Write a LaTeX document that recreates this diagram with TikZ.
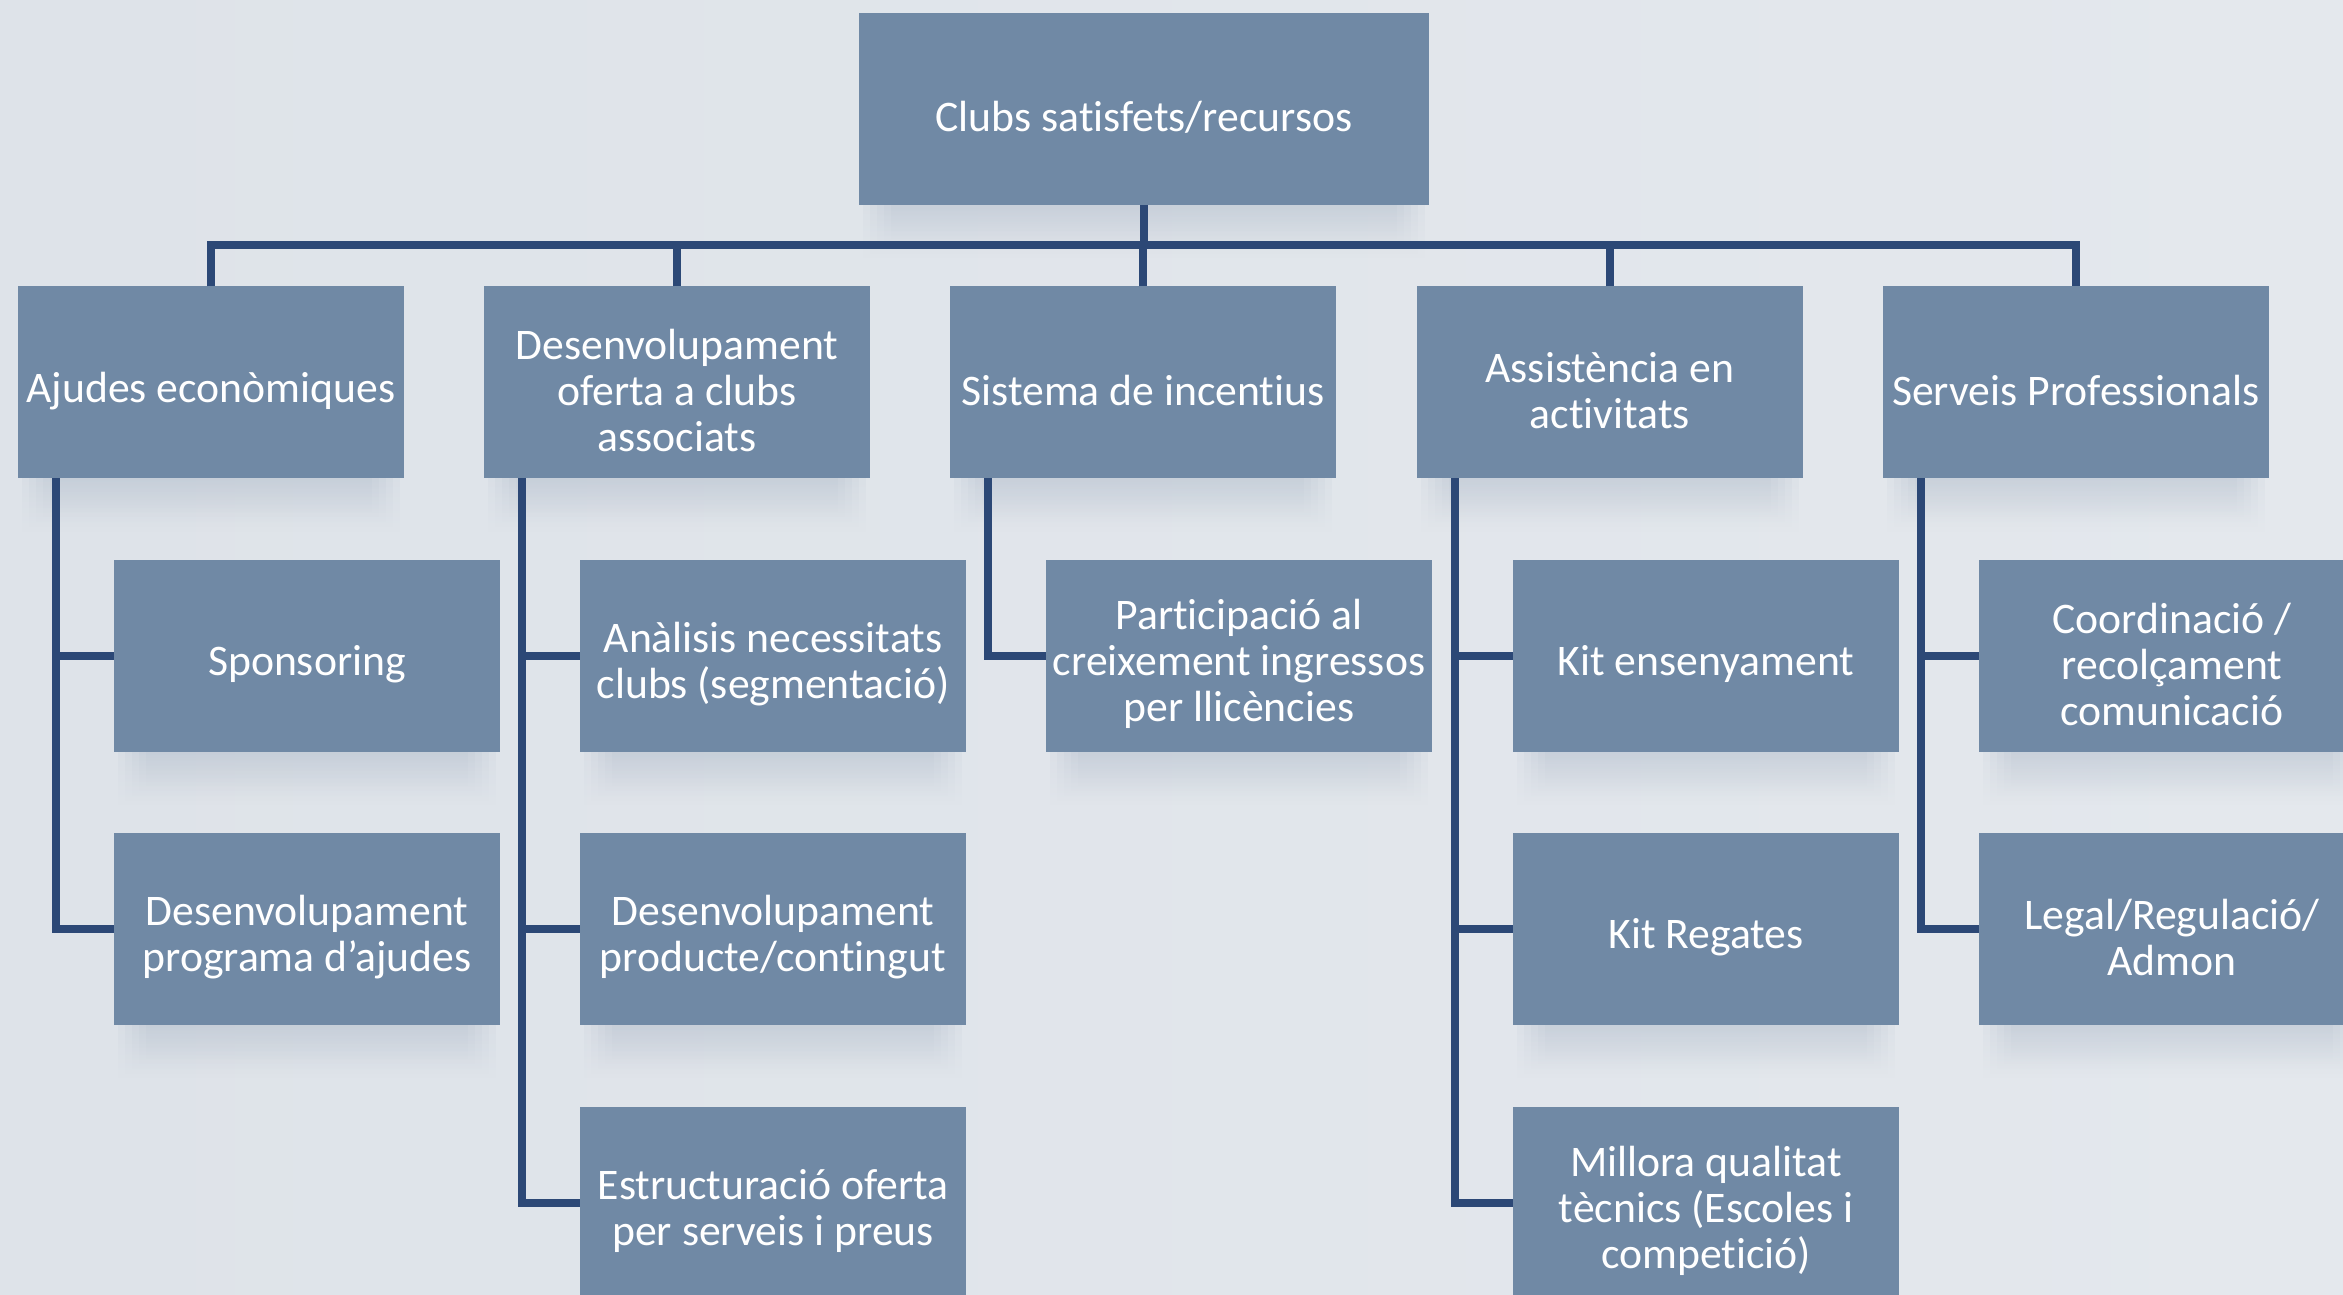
\documentclass[tikz,border=0pt]{standalone}
\usepackage{fontspec}
\setmainfont[Ligatures=NoCommon]{Carlito}
\usetikzlibrary{fadings,calc}
\definecolor{boxfill}{HTML}{7089A5}
\definecolor{linkcol}{HTML}{2C4876}
\definecolor{bgleft}{HTML}{DEE3E9}
\definecolor{bgmid}{HTML}{EDEEF2}
\definecolor{bgright}{HTML}{E4E8ED}
\definecolor{shadowcol}{HTML}{A8B5C6}
\tikzfading[name=shadowfade, top color=transparent!55, bottom color=transparent!100]
\pgfdeclarelayer{backdrop}
\pgfdeclarelayer{shadowlayer}
\pgfsetlayers{backdrop,shadowlayer,main}

% a soft shadow: a few stacked faded strips, narrower each time
\newcommand\cardshadow[1]{%
  \foreach \k in {0,1,2,3,4}{%
    \fill[shadowcol, fill opacity=0.22, path fading=shadowfade]
      ($(#1.south west)+(4+7*\k,0)$) rectangle ($(#1.south east)+(-4-7*\k,54-5*\k)$);}}

% a card: the filled box, and its text set a little below the centre
\newcommand\card[4][]{%
  \node[card,#1] (#2) at (#3) {};
  \node[cardtext] (#2-text) at ([yshift=-2.5pt]#2.center) {#4};}

\begin{document}
\begin{tikzpicture}[x=0.3pt,y=-0.3pt,
  card/.style={rectangle, fill=boxfill,
    minimum width=115.8pt, minimum height=57.6pt,
    inner sep=0pt, outer sep=0pt},
  cardtext/.style={text=white, inner sep=0pt, align=center,
    font=\fontsize{13.1}{13.8}\selectfont},
  link/.style={draw=linkcol, line width=2.4pt}]

\useasboundingbox (0,0) rectangle (2343,1295);
\begin{pgfonlayer}{backdrop}
  \shade[left color=bgleft, middle color=bgmid, right color=bgright]
    (0,0) rectangle (2343,1295);
\end{pgfonlayer}

% top of the tree
\card[minimum width=171pt]{root}{1144,109}{Clubs satisfets/recursos}

% first level
\card{a}{211,382.5}{Ajudes econòmiques}
\card{b}{677,382.5}{Desenvolupament\\oferta a clubs\\associats}
\card{c}{1143,382.5}{Sistema de incentius}
\card{d}{1610,382.5}{Assistència en\\activitats}
\card{e}{2076,382.5}{Serveis Professionals}

% second level
\card{a1}{307,656}{Sponsoring}
\card{a2}{307,929}{Desenvolupament\\programa d’ajudes}
\card{b1}{773,656}{Anàlisis necessitats\\clubs (segmentació)}
\card{b2}{773,929}{Desenvolupament\\producte/contingut}
\card{b3}{773,1203}{Estructuració oferta\\per serveis i preus}
\card{c1}{1239,656}{Participació al\\creixement ingressos\\per llicències}
\card{d1}{1706,656}{Kit ensenyament}
\card{d2}{1706,929}{Kit Regates}
\card{d3}{1706,1203}{Millora qualitat\\tècnics (Escoles i\\competició)}
\card{e1}{2172,656}{Coordinació /\\recolçament\\comunicació}
\card{e2}{2172,929}{Legal/Regulació/\\Admon}

% soft shadows under the cards
\begin{pgfonlayer}{shadowlayer}
  \foreach \n in {root,a,b,c,d,e,a1,a2,b1,b2,b3,c1,d1,d2,d3,e1,e2}
    {\cardshadow{\n}}
\end{pgfonlayer}

% connectors
\coordinate (bus) at (1144,245);
\draw[link] (a.north) |- (bus) -| (e.north);
\draw[link] (root.south) -- (root.south |- bus);
\foreach \n in {b,c,d} {\draw[link] (\n.north) -- (\n.north |- bus);}

\draw[link] ([xshift=-46.5pt]a.south) |- (a2.west);
\draw[link] ([xshift=-46.5pt]a.south) |- (a1.west);
\draw[link] ([xshift=-46.5pt]b.south) |- (b3.west);
\draw[link] ([xshift=-46.5pt]b.south) |- (b2.west);
\draw[link] ([xshift=-46.5pt]b.south) |- (b1.west);
\draw[link] ([xshift=-46.5pt]c.south) |- (c1.west);
\draw[link] ([xshift=-46.5pt]d.south) |- (d3.west);
\draw[link] ([xshift=-46.5pt]d.south) |- (d2.west);
\draw[link] ([xshift=-46.5pt]d.south) |- (d1.west);
\draw[link] ([xshift=-46.5pt]e.south) |- (e2.west);
\draw[link] ([xshift=-46.5pt]e.south) |- (e1.west);
\end{tikzpicture}
\end{document}
